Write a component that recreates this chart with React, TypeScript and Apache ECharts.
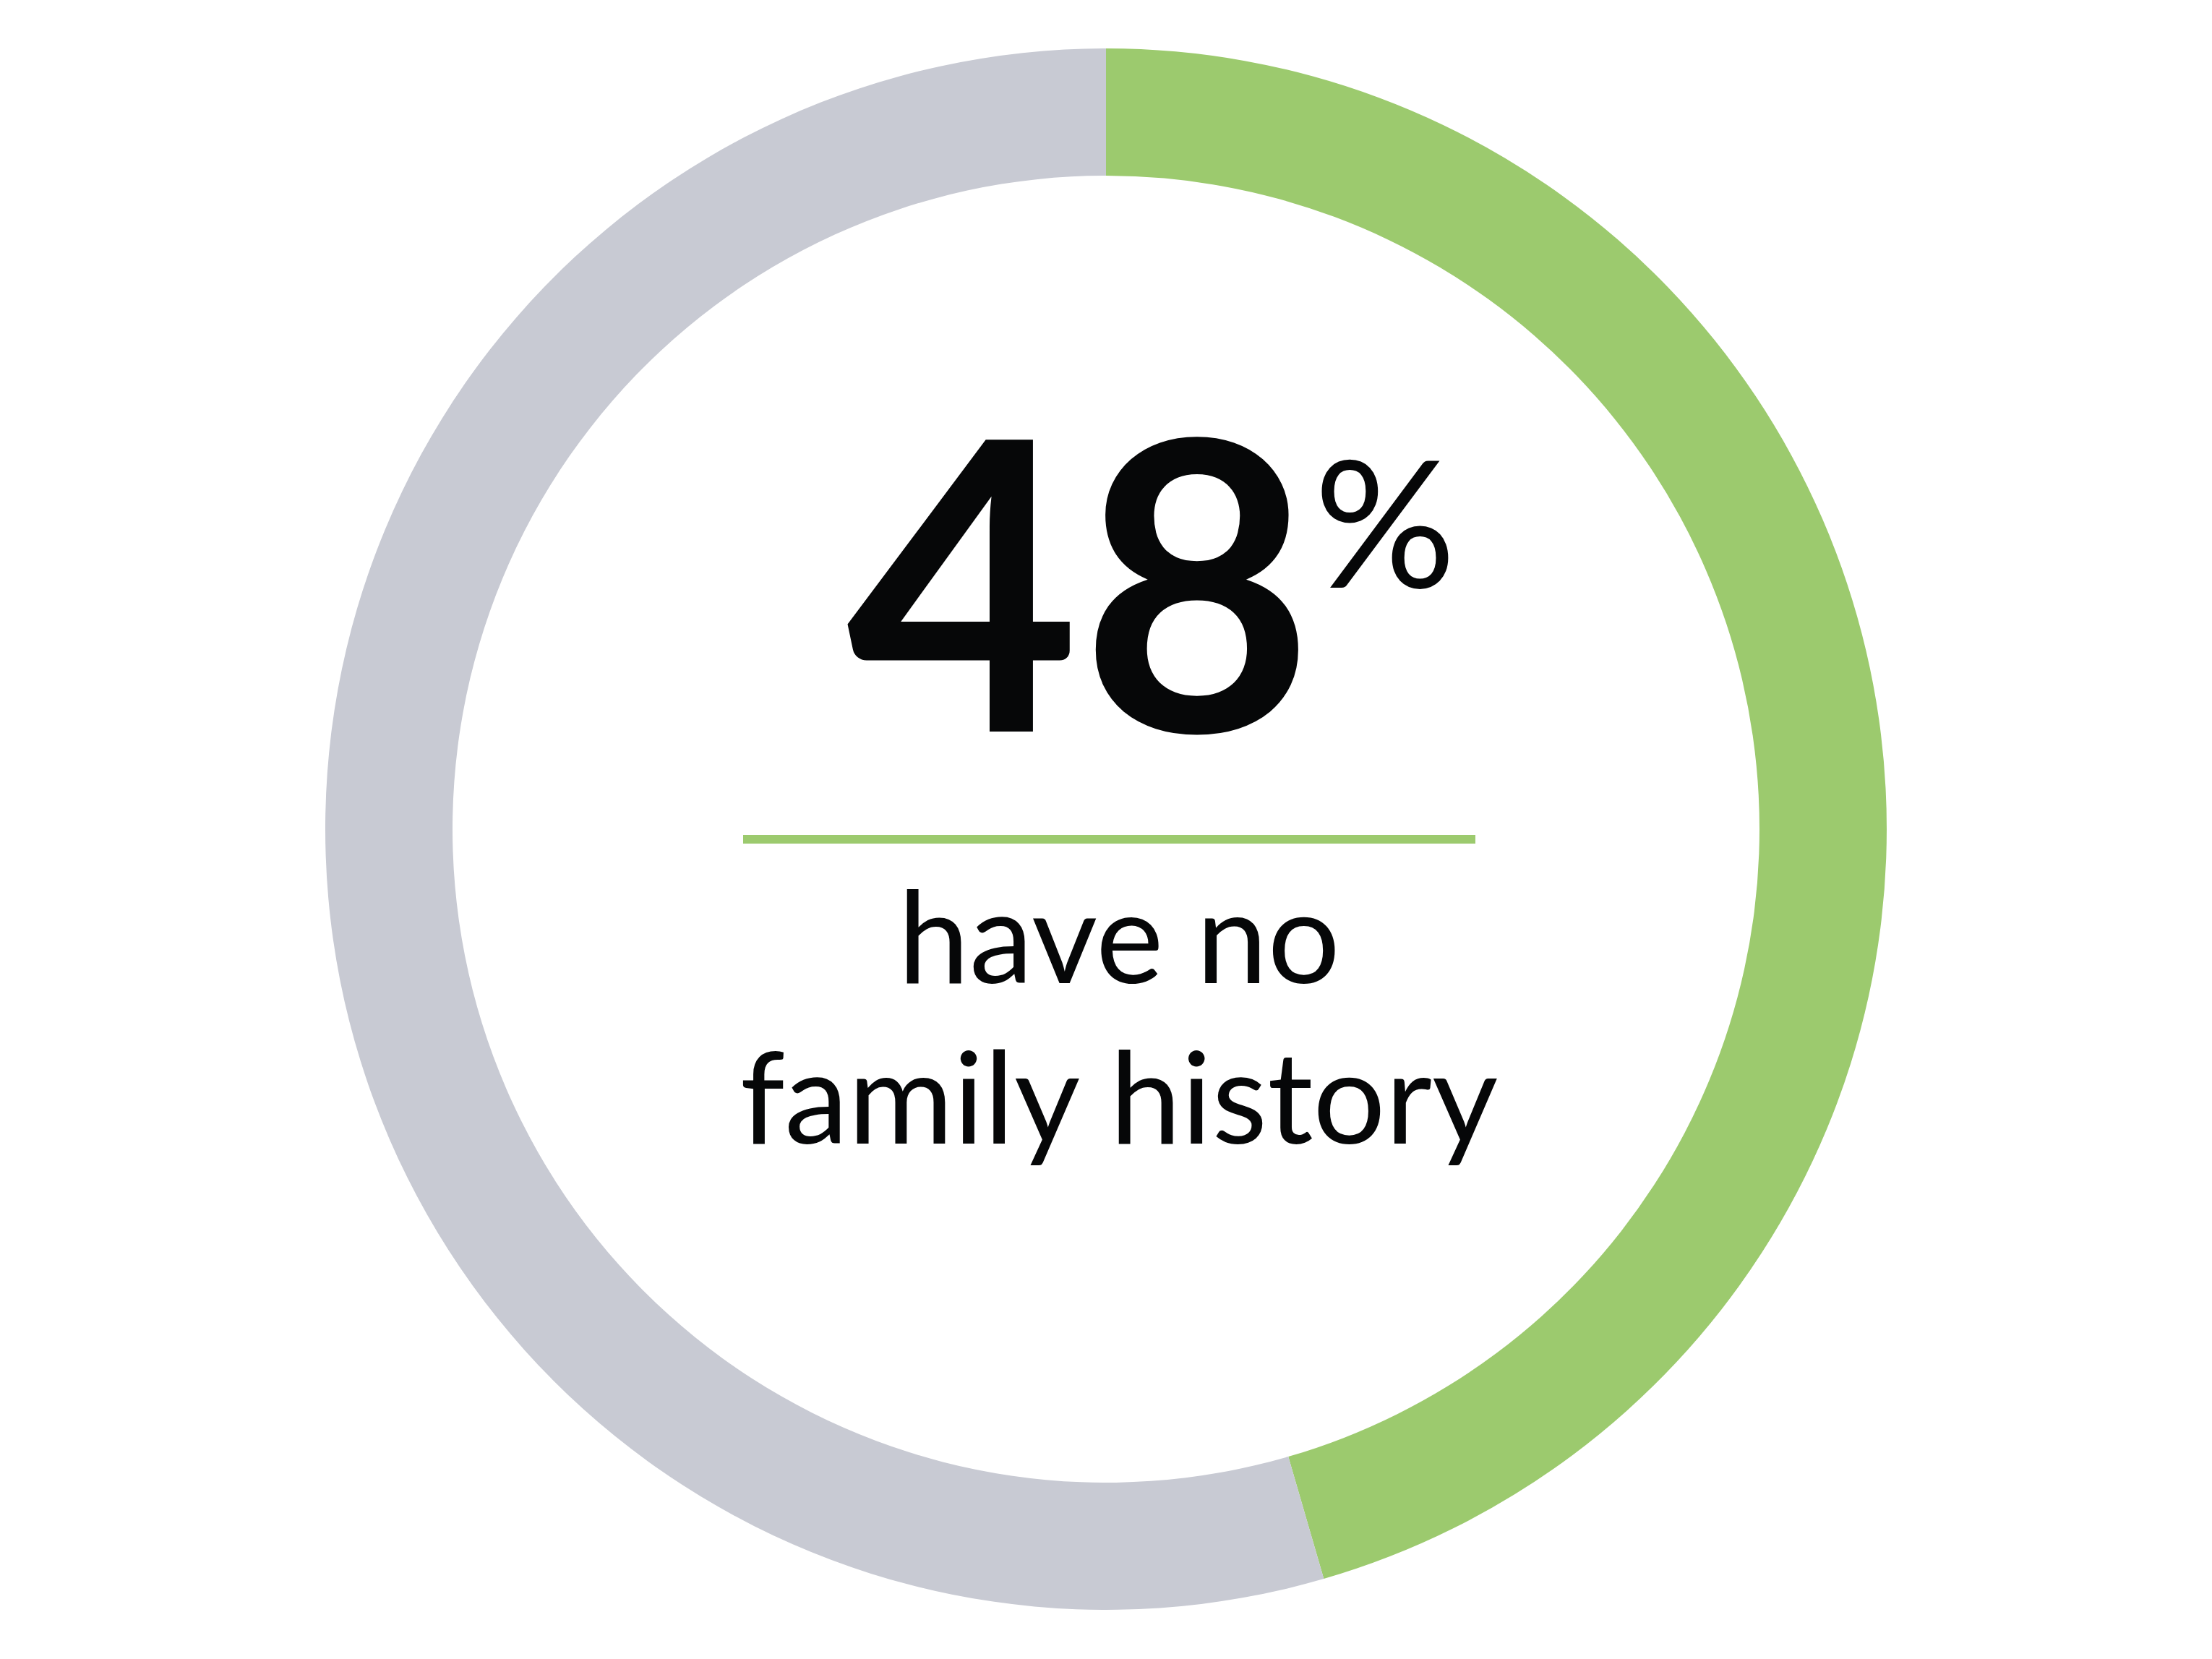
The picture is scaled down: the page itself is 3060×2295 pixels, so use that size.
import { useEffect, useRef } from "react";
import * as echarts from "echarts";

// share of the ring, read from where the green arc ends
const segments = ["No family history", "Family history"];
const shares = [45.5, 54.5];
const colors = ["#9cca6e", "#c8cad3"];

const headline = "48";
const captionLines = ["have no", "family history"];

export default function App() {
  const chartRef = useRef<HTMLDivElement>(null);

  useEffect(() => {
    document.body.style.margin = "0";
    if (!chartRef.current) return;
    const chart = echarts.init(chartRef.current, null, { renderer: "svg" });

    chart.setOption({
      animation: false,
      backgroundColor: "#ffffff",
      series: [
        {
          type: "pie",
          center: [1530, 1147],
          radius: [904, 1080],
          startAngle: 90,
          clockwise: true,
          silent: true,
          label: { show: false },
          labelLine: { show: false },
          data: segments.map((name, i) => ({
            name,
            value: shares[i],
            itemStyle: { color: colors[i] },
          })),
        },
      ],
      graphic: [
        {
          type: "text",
          x: 1494,
          y: 796,
          style: {
            text: headline,
            fill: "#060708",
            font: "bold 558px Lato",
            textAlign: "center",
            textVerticalAlign: "middle",
          },
        },
        {
          type: "text",
          x: 1916,
          y: 718,
          style: {
            text: "%",
            fill: "#060708",
            font: "245px Lato",
            textAlign: "center",
            textVerticalAlign: "middle",
          },
        },
        {
          type: "rect",
          shape: { x: 1028, y: 1155, width: 1013, height: 12 },
          style: { fill: colors[0] },
        },
        ...captionLines.map((line, i) => ({
          type: "text",
          x: 1548,
          y: 1291 + i * 222,
          style: {
            text: line,
            fill: "#060708",
            font: "177px Lato",
            textAlign: "center",
            textVerticalAlign: "middle",
          },
        })),
      ],
    });

    return () => {
      chart.dispose();
    };
  }, []);

  return <div ref={chartRef} style={{ width: 3060, height: 2295 }} />;
}
